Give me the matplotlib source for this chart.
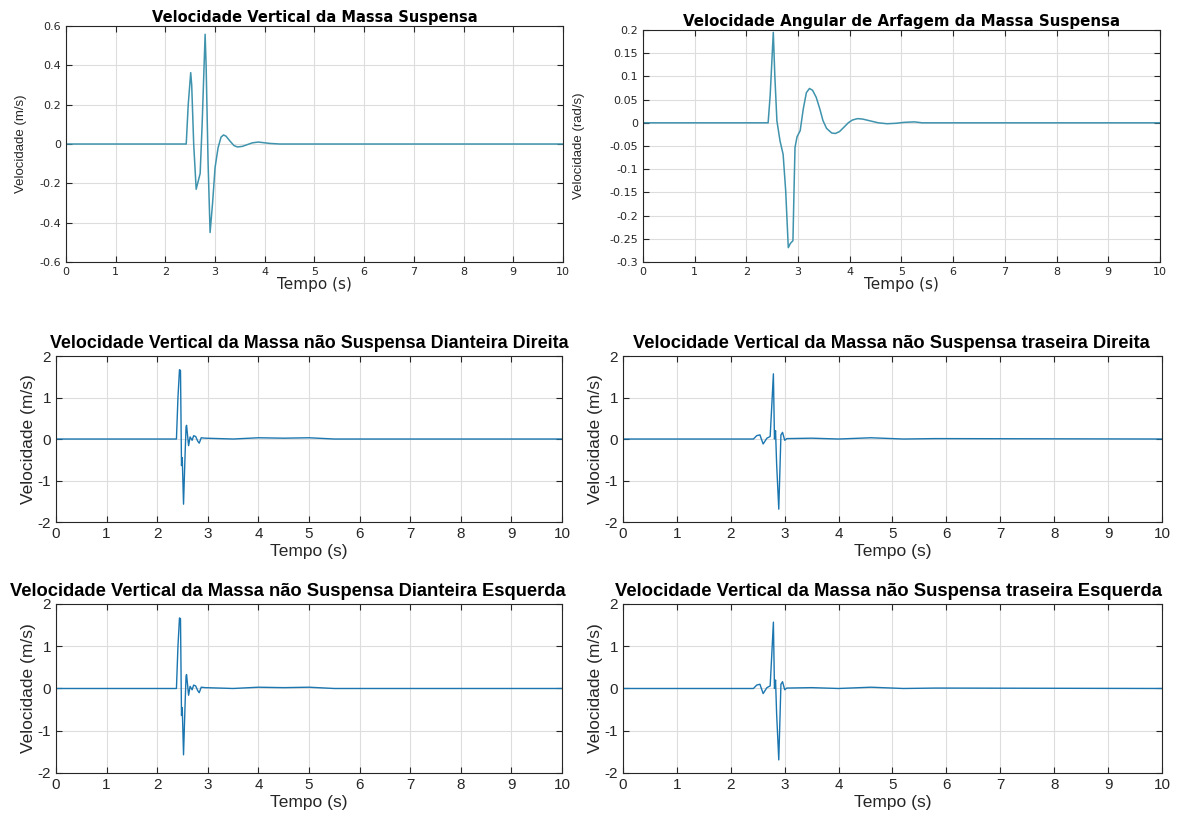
import numpy as np
import matplotlib
matplotlib.use('Agg')
import matplotlib.pyplot as plt

plt.rcParams['axes.unicode_minus'] = False

# --- data (time in s, velocity) ---
t_sprung = [0, 2.42, 2.46, 2.51, 2.53, 2.57, 2.62, 2.66, 2.70, 2.74, 2.80, 2.82, 2.86, 2.90,
            2.95, 3.00, 3.06, 3.12, 3.17, 3.22, 3.30, 3.38, 3.45, 3.55, 3.65, 3.75, 3.87, 3.97,
            4.10, 4.30, 10]
v_sprung = [0, 0, 0.20, 0.363, 0.30, 0.0, -0.23, -0.19, -0.15, 0.10, 0.558, 0.40, -0.10, -0.45,
            -0.30, -0.12, -0.02, 0.035, 0.046, 0.040, 0.015, -0.008, -0.015, -0.012, -0.003,
            0.006, 0.010, 0.007, 0.003, 0.0, 0]

t_pitch = [0, 2.42, 2.46, 2.52, 2.55, 2.59, 2.65, 2.71, 2.76, 2.81, 2.85, 2.90, 2.92, 2.94, 2.98,
           3.04, 3.10, 3.16, 3.22, 3.28, 3.35, 3.42, 3.48, 3.55, 3.65, 3.72, 3.80, 3.90, 3.97,
           4.05, 4.15, 4.25, 4.40, 4.55, 4.72, 4.90, 5.05, 5.25, 5.40, 10]
v_pitch = [0, 0, 0.06, 0.195, 0.10, 0.004, -0.039, -0.068, -0.147, -0.269, -0.26, -0.254, -0.15,
           -0.053, -0.03, -0.017, 0.03, 0.065, 0.074, 0.070, 0.055, 0.030, 0.005, -0.012, -0.022,
           -0.023, -0.019, -0.008, 0.0, 0.006, 0.009, 0.008, 0.004, 0.0, -0.002, -0.001, 0.001,
           0.002, 0.0, 0]

t_front = [0, 2.38, 2.41, 2.44, 2.46, 2.48, 2.495, 2.52, 2.55, 2.57, 2.58, 2.62, 2.65, 2.69, 2.72,
           2.76, 2.80, 2.83, 2.87, 2.95, 3.5, 4.0, 4.5, 5.0, 5.5, 10]
v_front = [0, 0, 1.0, 1.67, 1.65, -0.64, -0.45, -1.57, -0.4, 0.29, 0.33, -0.16, 0.05, -0.03, 0.08,
           0.06, -0.05, -0.10, 0.03, 0.02, 0.0, 0.03, 0.02, 0.03, 0.0, 0]

t_rear = [0, 2.42, 2.48, 2.54, 2.60, 2.67, 2.73, 2.76, 2.79, 2.81, 2.83, 2.85, 2.89, 2.93, 2.96,
          3.00, 3.04, 3.5, 4.0, 4.6, 5.2, 5.8, 10]
v_rear = [0, 0, 0.08, 0.10, -0.12, 0.02, 0.06, 0.8, 1.57, 0.0, 0.2, -0.6, -1.69, 0.1, 0.16,
          -0.03, 0.01, 0.02, 0.0, 0.03, 0.0, 0.01, 0]

titles = ['Velocidade Vertical da Massa Suspensa',
          'Velocidade Angular de Arfagem da Massa Suspensa',
          'Velocidade Vertical da Massa não Suspensa Dianteira Direita',
          'Velocidade Vertical da Massa não Suspensa traseira Direita',
          'Velocidade Vertical da Massa não Suspensa Dianteira Esquerda',
          'Velocidade Vertical da Massa não Suspensa traseira Esquerda']

fig = plt.figure(figsize=(11.84, 8.31), dpi=100)

def style(ax, tick_fs, family):
    ax.set_xlim(0, 10)
    ax.set_xticks(range(0, 11))
    ax.grid(True, color='#dddddd', linewidth=0.8)
    ax.set_axisbelow(True)
    ax.tick_params(direction='in', top=True, right=True, labelsize=tick_fs, colors='#262626',
                   length=4, width=0.8)
    for lbl in ax.get_xticklabels() + ax.get_yticklabels():
        lbl.set_family(family)
    for s in ax.spines.values():
        s.set_color('#262626')
        s.set_linewidth(0.8)

top_col = '#3f93ad'
low_col = '#1b76b0'

# top row (small, wide fonts)
ax = fig.add_axes([0.0557, 0.6847, 0.4198, 0.2840])
ax.plot(t_sprung, v_sprung, color=top_col, lw=1.1)
ax.set_ylim(-0.6, 0.6)
ax.set_yticks(np.arange(-0.6, 0.61, 0.2))
ax.set_yticklabels(['-0.6', '-0.4', '-0.2', '0', '0.2', '0.4', '0.6'])
style(ax, 8, 'DejaVu Sans')
ax.set_title(titles[0], fontsize=10.5, fontweight='bold', family='DejaVu Sans', pad=3)
ax.set_xlabel('Tempo (s)', fontsize=11, family='DejaVu Sans', labelpad=0, color='#262626')
ax.set_ylabel('Velocidade (m/s)', fontsize=9.5, family='Liberation Sans', labelpad=9, color='#262626')

ax = fig.add_axes([0.5431, 0.6847, 0.4366, 0.2792])
ax.plot(t_pitch, v_pitch, color=top_col, lw=1.1)
ax.set_ylim(-0.3, 0.2)
yt = [-0.3, -0.25, -0.2, -0.15, -0.1, -0.05, 0, 0.05, 0.1, 0.15, 0.2]
ax.set_yticks(yt)
ax.set_yticklabels(['-0.3', '-0.25', '-0.2', '-0.15', '-0.1', '-0.05', '0', '0.05', '0.1', '0.15', '0.2'])
style(ax, 8, 'DejaVu Sans')
ax.set_title(titles[1], fontsize=10.8, fontweight='bold', family='DejaVu Sans', pad=3)
ax.set_xlabel('Tempo (s)', fontsize=11, family='DejaVu Sans', labelpad=0, color='#262626')
ax.set_ylabel('Velocidade (rad/s)', fontsize=9.5, family='Liberation Sans', labelpad=2, color='#262626')
ax.yaxis.set_label_coords(-0.112, 0.5)

# lower four
rects = [[0.0473, 0.3718, 0.4274, 0.1998], [0.5262, 0.3718, 0.4552, 0.1998],
         [0.0473, 0.0698, 0.4274, 0.2034], [0.5262, 0.0698, 0.4552, 0.2034]]
series = [(t_front, v_front), (t_rear, v_rear), (t_front, v_front), (t_rear, v_rear)]
title_fs = [12.85, 13.2, 13.2, 13.3]
title_x = [0.5, 0.497, 0.4585, 0.4935]
for i, (r, (tt, vv)) in enumerate(zip(rects, series)):
    ax = fig.add_axes(r)
    ax.plot(tt, vv, color=low_col, lw=1.0)
    ax.set_ylim(-2, 2)
    ax.set_yticks([-2, -1, 0, 1, 2])
    style(ax, 11, 'Liberation Sans')
    ax.set_title(titles[i + 2], fontsize=title_fs[i], fontweight='bold', family='Liberation Sans',
                 pad=6, x=title_x[i])
    ax.set_xlabel('Tempo (s)', fontsize=12.5, family='Liberation Sans', labelpad=2, color='#262626')
    ax.set_ylabel('Velocidade (m/s)', fontsize=12.5, family='Liberation Sans', labelpad=1, color='#262626')

fig.savefig('out.png', dpi=100)
